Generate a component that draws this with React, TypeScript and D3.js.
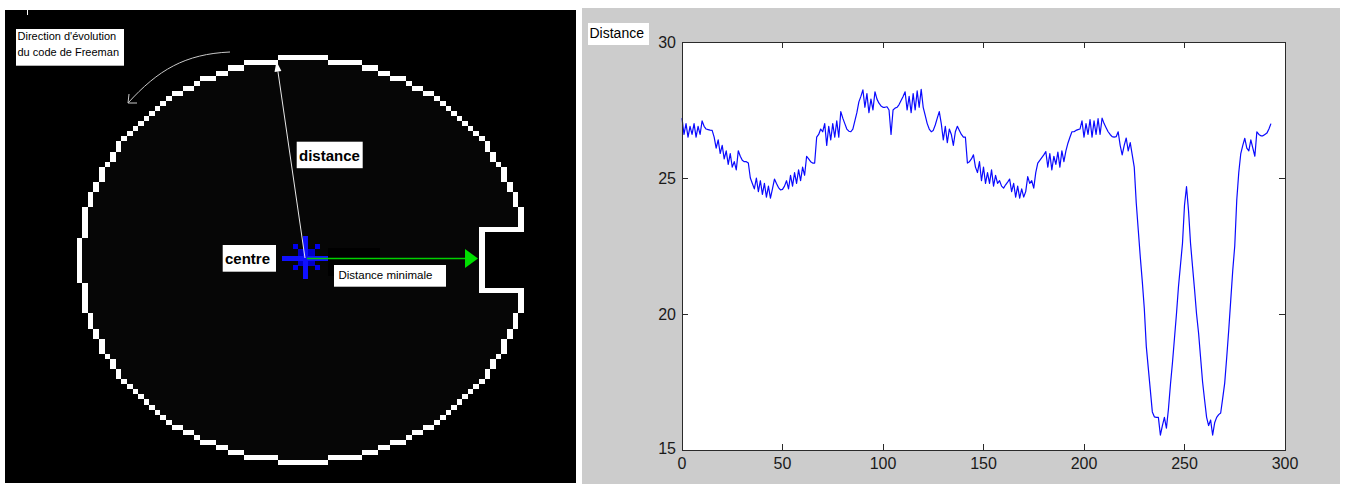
import React from 'react';
import * as d3 from 'd3';

// Distance from the centre to each contour point (Freeman chain index 0..293)
const distanceValues: number[] = [
  27.2, 26.6, 27.0, 26.5, 26.9, 26.6, 27.0, 26.5, 26.9, 26.6,
  27.1, 26.9, 26.8, 26.78, 26.76, 26.75, 26.5, 26.1, 26.4, 25.9,
  26.2, 25.7, 26.0, 25.5, 25.9, 25.4, 25.6, 25.3, 26.0, 25.8,
  25.65, 25.6, 25.6, 25.55, 25.0, 24.8, 24.6, 25.0, 24.5, 24.9,
  24.4, 24.8, 24.3, 24.7, 24.26, 24.6, 24.96, 24.8, 24.65, 24.56,
  24.58, 24.7, 24.9, 24.6, 25.1, 24.7, 25.2, 24.8, 25.3, 24.9,
  25.4, 25.1, 25.8, 25.7, 25.6, 25.55, 25.55, 26.5, 26.6, 26.8,
  26.7, 27.0, 26.2, 26.9, 26.4, 27.0, 26.5, 27.1, 26.5, 27.44,
  27.2, 27.0, 26.8, 26.72, 26.7, 26.8, 27.1, 27.4, 27.8, 28.0,
  28.24, 27.6, 28.1, 27.4, 27.9, 27.5, 28.17, 27.9, 27.75, 27.65,
  27.6, 27.6, 27.62, 27.5, 26.6, 27.5, 27.57, 27.6, 27.7, 27.85,
  28.0, 28.17, 27.5, 28.0, 27.4, 28.1, 27.5, 28.2, 27.6, 28.26,
  27.6, 27.3, 27.0, 26.8, 26.7, 26.75, 26.95, 27.2, 27.44, 27.0,
  26.4, 26.9, 26.3, 26.8, 26.6, 26.2, 26.7, 26.9, 26.75, 26.6,
  26.5, 26.5, 25.55, 25.6, 25.7, 25.85, 25.4, 25.2, 25.6, 24.9,
  25.4, 24.8, 25.2, 24.8, 25.3, 24.7, 25.1, 24.8, 24.9, 24.7,
  24.63, 24.75, 24.85, 24.96, 24.5, 24.8, 24.3, 24.7, 24.26, 24.6,
  24.3, 24.5, 25.05, 24.8, 24.9, 24.63, 25.2, 25.55, 25.65, 25.75,
  25.85, 25.97, 25.4, 25.9, 25.3, 25.8, 25.5, 25.95, 25.4, 26.0,
  25.6, 26.0, 26.28, 26.5, 26.7, 26.7, 26.75, 26.78, 26.8, 27.1,
  26.5, 27.0, 26.6, 27.15, 26.5, 27.1, 26.6, 27.18, 26.6, 27.2,
  27.0, 26.85, 26.7, 26.6, 26.52, 26.5, 26.52, 26.7, 26.2, 25.85,
  26.2, 26.47, 26.0, 26.3, 25.85, 25.4, 24.08, 23.09, 22.1, 21.2,
  20.2, 18.8, 18.0, 17.2, 16.4, 16.22, 16.2, 16.2, 15.55, 15.9,
  16.2, 15.8, 16.5, 17.4, 18.2, 19.1, 20.0, 21.0, 21.8, 22.6,
  24.0, 24.68, 23.8, 22.6, 21.74, 20.9, 20.0, 19.3, 18.4, 17.5,
  16.84, 16.2, 15.9, 16.1, 15.55, 16.0, 16.2, 16.3, 16.36, 16.9,
  17.46, 18.4, 19.4, 20.5, 21.6, 22.5, 24.19, 25.2, 25.9, 26.2,
  26.46, 26.1, 26.0, 26.4, 26.1, 25.8, 26.7, 26.6, 26.55, 26.55,
  26.6, 26.65, 26.8, 27.0,
];

const xTickValues = [0, 50, 100, 150, 200, 250, 300];
const yTickValues = [15, 20, 25, 30];
const yAxisLabel = 'Distance';

const labelDistance = 'distance';
const labelCentre = 'centre';
const labelMinimal = 'Distance minimale';
const labelFreeman = ["Direction d'évolution", 'du code de Freeman'];

// Contour image (pixel grid)
const gridRadiusSq = 1622;
const notchStart = 33;
const notchHalf = 5;

const FONT = "'Liberation Sans', Arial, Helvetica, sans-serif";

export default function App() {
  // ----- right panel scales -----
  const x = d3.scaleLinear().domain([0, 300]).range([682, 1285]);
  const y = d3.scaleLinear().domain([15, 30]).range([450, 42]);
  const line = d3
    .line<number>()
    .x((_, i) => x(i))
    .y((d) => y(d));
  const linePath = line(distanceValues) || '';

  // ----- left panel pixel contour -----
  const cellW = 5.59;
  const cellH = 5.06;
  const ccx = 303;
  const ccy = 260.3;
  const inside = (i: number, j: number) =>
    i * i + j * j <= gridRadiusSq && !(i >= notchStart && j >= -notchHalf && j <= notchHalf);
  const boundary: [number, number][] = [];
  const spans: [number, number, number][] = [];
  for (let j = -42; j <= 42; j++) {
    let start: number | null = null;
    for (let i = -42; i <= 43; i++) {
      const inn = i <= 42 && inside(i, j);
      if (inn) {
        if (start === null) start = i;
        const isB =
          !inside(i - 1, j) || !inside(i + 1, j) || !inside(i, j - 1) || !inside(i, j + 1) ||
          (i === notchStart - 1 && Math.abs(j) === notchHalf + 1);
        if (isB) boundary.push([i, j]);
      } else if (start !== null) {
        spans.push([j, start, i - 1]);
        start = null;
      }
    }
  }

  // distance arrow geometry
  const tip = [276.5, 61.5];
  const ctr = [305, 258];
  const dx = ctr[0] - tip[0];
  const dy = ctr[1] - tip[1];
  const len = Math.hypot(dx, dy);
  const ux = dx / len;
  const uy = dy / len;
  const bx = tip[0] + ux * 10;
  const by = tip[1] + uy * 10;
  const head = `M${tip[0]},${tip[1]} L${bx - uy * 3.5},${by + ux * 3.5} L${bx + uy * 3.5},${by - ux * 3.5} Z`;

  return (
    <div style={{ position: 'fixed', left: 0, top: 0 }}>
      <svg width={1346} height={484} style={{ display: 'block', background: '#fff' }}>
        {/* ================= LEFT PANEL ================= */}
        <rect x={5} y={10} width={571} height={473} fill="#000" />
        <g shapeRendering="crispEdges">
          {spans.map(([j, a, b], k) => (
            <rect
              key={'s' + k}
              x={ccx + a * cellW - cellW / 2}
              y={ccy + j * cellH - cellH / 2}
              width={(b - a + 1) * cellW}
              height={cellH}
              fill="#060606"
            />
          ))}
          {boundary.map(([i, j], k) => (
            <rect
              key={'b' + k}
              x={ccx + i * cellW - cellW / 2}
              y={ccy + j * cellH - cellH / 2}
              width={cellW}
              height={cellH}
              fill="#fff"
            />
          ))}
          <rect x={328} y={248} width={52} height={28} fill="#000" />
        </g>
        <line x1={27.5} y1={10} x2={27.5} y2={15} stroke="#fff" strokeWidth={1} />

        {/* Freeman direction curved arrow */}
        <path d="M230,52 C185,54 158,70 128,103" fill="none" stroke="#c8c8c8" strokeWidth={1} />
        <path d="M129,94 L128,103 L137,103" fill="none" stroke="#c8c8c8" strokeWidth={1} />

        {/* centre marker */}
        <g shapeRendering="crispEdges" fill="#0000ee">
          <rect x={297.7} y={249.3} width={17.3} height={16.7} fill="#0000c8" />
          <rect x={302.7} y={236} width={5.6} height={43.3} fill="#1010ff" />
          <rect x={281.7} y={256} width={46.6} height={5} fill="#1010ff" />
          <rect x={293} y={244} width={5} height={5} />
          <rect x={315} y={244} width={5} height={5} />
          <rect x={293} y={265} width={5} height={5} />
          <rect x={315} y={265} width={5} height={5} />
        </g>

        {/* distance arrow */}
        <line x1={ctr[0]} y1={ctr[1]} x2={bx} y2={by} stroke="#e8e8e8" strokeWidth={1} />
        <path d={head} fill="#fff" />

        {/* minimal distance arrow */}
        <line x1={307} y1={258.5} x2={467} y2={258.5} stroke="#00d000" strokeWidth={1.5} />
        <path d="M465,249 L478,258.5 L465,268 Z" fill="#00e000" />

        {/* labels */}
        <rect x={296.7} y={141.7} width={66} height={26.5} fill="#fff" />
        <text x={299} y={155} dominantBaseline="central" fontFamily={FONT} fontWeight="bold" fontSize={15} fill="#000">
          {labelDistance}
        </text>
        <rect x={222.7} y={245} width={53.3} height={26.7} fill="#fff" />
        <text x={225} y={258} dominantBaseline="central" fontFamily={FONT} fontWeight="bold" fontSize={15} fill="#000">
          {labelCentre}
        </text>
        <rect x={334} y={265} width={112} height={21.7} fill="#fff" />
        <text x={338.5} y={275} dominantBaseline="central" fontFamily={FONT} fontSize={11.5} fill="#000">
          {labelMinimal}
        </text>
        <rect x={16} y={29} width={108} height={36.7} fill="#fff" />
        {labelFreeman.map((t, k) => (
          <text key={t} x={17.5} y={40 + k * 16} fontFamily={FONT} fontSize={11} fill="#000">
            {t}
          </text>
        ))}

        {/* ================= RIGHT PANEL ================= */}
        <rect x={582} y={8} width={758} height={476} fill="#cccccc" />
        <rect x={x(0)} y={y(30)} width={x(300) - x(0)} height={y(15) - y(30)} fill="#fff" />
        <path d={linePath} fill="none" stroke="#0a0aff" strokeWidth={1.2} strokeLinejoin="round" />
        <g stroke="#2a2a2a" strokeWidth={1} shapeRendering="crispEdges">
          <rect x={x(0)} y={y(30)} width={x(300) - x(0)} height={y(15) - y(30)} fill="none" />
          {xTickValues.slice(1, -1).map((v) => (
            <g key={'xt' + v}>
              <line x1={x(v)} x2={x(v)} y1={y(15)} y2={y(15) - 6} />
              <line x1={x(v)} x2={x(v)} y1={y(30)} y2={y(30) + 6} />
            </g>
          ))}
          {yTickValues.slice(1, -1).map((v) => (
            <g key={'yt' + v}>
              <line x1={x(0)} x2={x(0) + 6} y1={y(v)} y2={y(v)} />
              <line x1={x(300)} x2={x(300) - 6} y1={y(v)} y2={y(v)} />
            </g>
          ))}
        </g>
        {xTickValues.map((v) => (
          <text
            key={'xl' + v}
            x={x(v)}
            y={463}
            textAnchor="middle"
            dominantBaseline="central"
            fontFamily={FONT}
            fontSize={16}
            fill="#1a1a1a"
          >
            {v}
          </text>
        ))}
        {yTickValues.map((v) => (
          <text
            key={'yl' + v}
            x={676}
            y={v === 15 ? y(v) - 2 : y(v)}
            textAnchor="end"
            dominantBaseline="central"
            fontFamily={FONT}
            fontSize={16}
            fill="#1a1a1a"
          >
            {v}
          </text>
        ))}
        <rect x={588} y={23} width={61} height={22} fill="#fff" />
        <text x={589.5} y={33} dominantBaseline="central" fontFamily={FONT} fontSize={14} fill="#000">
          {yAxisLabel}
        </text>
      </svg>
    </div>
  );
}
